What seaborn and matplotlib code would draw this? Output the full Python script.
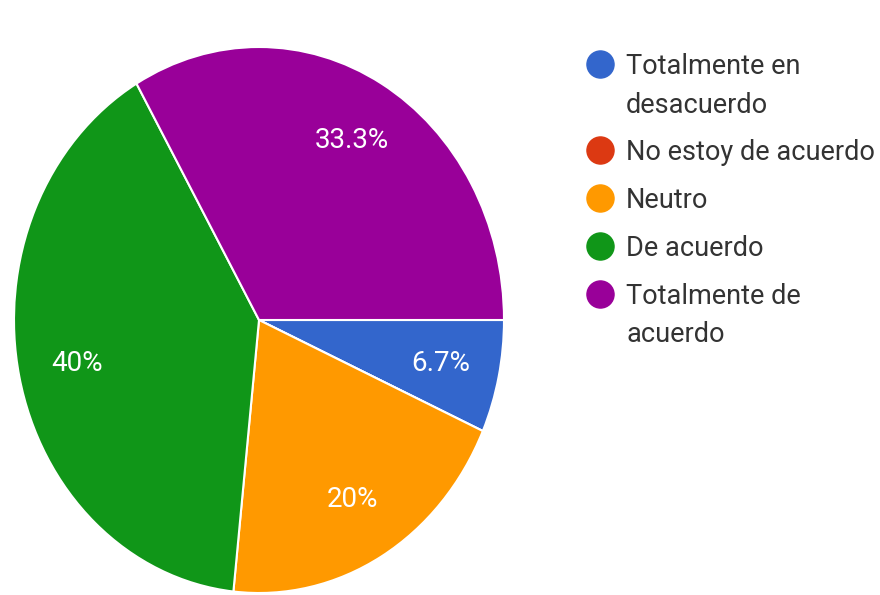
import matplotlib
matplotlib.use("Agg")
import matplotlib.pyplot as plt
from matplotlib.lines import Line2D
import seaborn as sns

# Survey responses (counts out of 15)
categories = [
    "Totalmente en\ndesacuerdo",
    "No estoy de acuerdo",
    "Neutro",
    "De acuerdo",
    "Totalmente de\nacuerdo",
]
counts = [1, 0, 3, 6, 5]
colors = ["#3366cc", "#dc3912", "#ff9900", "#109618", "#990099"]

sns.set_theme(style="white")
plt.rcParams["font.family"] = ["Roboto", "DejaVu Sans"]

W, H = 880, 595
fig = plt.figure(figsize=(W / 100, H / 100), dpi=100)
fig.patch.set_facecolor("white")

# pie occupies a slightly taller-than-wide box
left, right, top, bottom = 14, 504, 47, 593
ax = fig.add_axes([left / W, (H - bottom) / H, (right - left) / W, (bottom - top) / H])


def pct_label(p):
    if p < 0.05:
        return ""
    s = f"{p:.1f}"
    if s.endswith(".0"):
        s = s[:-2]
    return s + "%"


wedges, texts, autotexts = ax.pie(
    counts,
    colors=colors,
    startangle=0,
    counterclock=False,
    autopct=pct_label,
    pctdistance=0.76,
    wedgeprops=dict(edgecolor="white", linewidth=1.5),
    textprops=dict(color="white", fontsize=20),
)
ax.set_aspect("auto")
ax.set_xlim(-1.0, 1.0)
ax.set_ylim(-1.0, 1.0)
ax.axis("off")

# Legend on the right: marker beside the first line of each (wrapped) label
marker_x, text_x = 600, 626
y = 64            # vertical centre of the first line, in pixels from the top
line_step = 38    # spacing between wrapped lines
item_step = 48    # spacing between legend entries
for label, color in zip(categories, colors):
    fig.add_artist(Line2D([marker_x / W], [1 - y / H], transform=fig.transFigure,
                          marker="o", linestyle="none", markersize=19.5,
                          markerfacecolor=color, markeredgecolor=color))
    lines = label.split("\n")
    for k, line in enumerate(lines):
        fig.text(text_x / W, 1 - (y + k * line_step) / H, line,
                 fontsize=19.5, color="#333333", ha="left", va="center_baseline")
    y += (len(lines) - 1) * line_step + item_step

fig.savefig("out.png", dpi=100, facecolor="white")
